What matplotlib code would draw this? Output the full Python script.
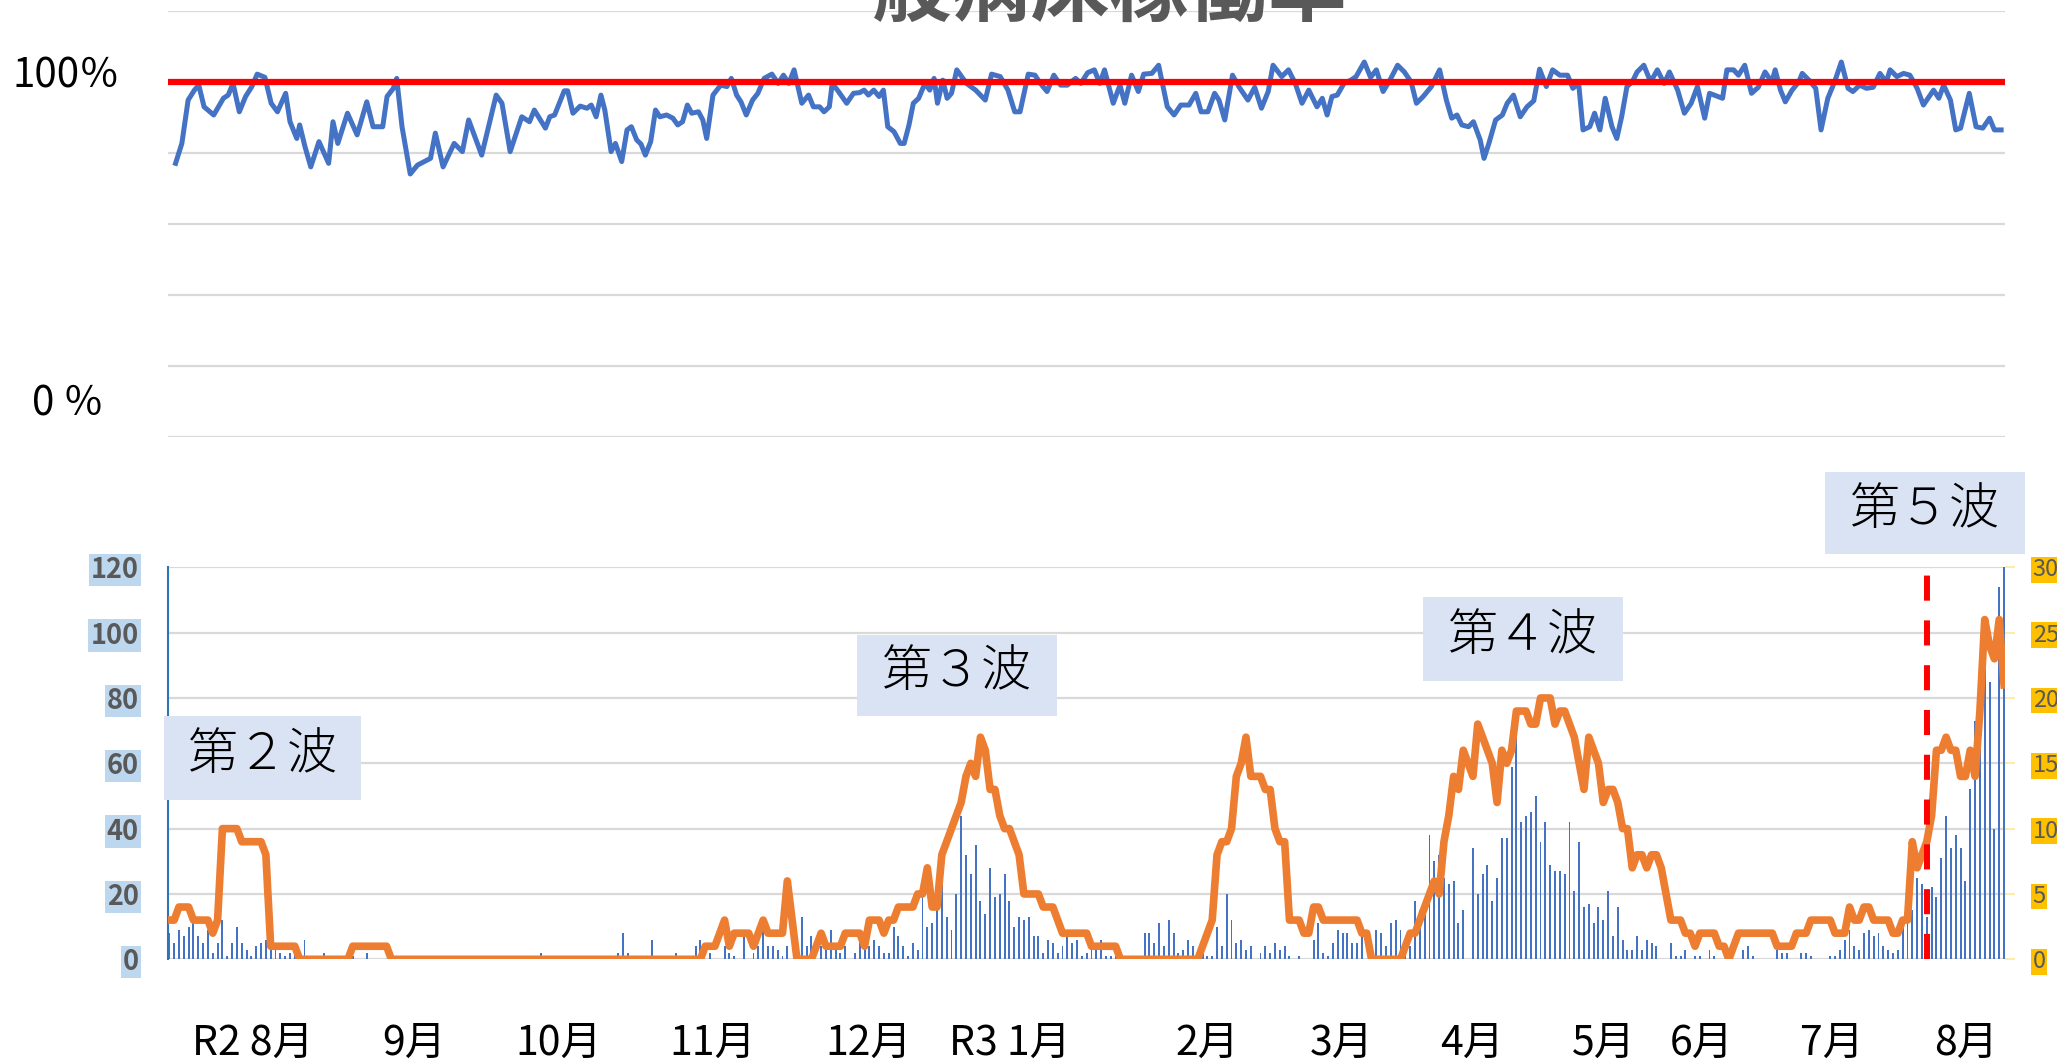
import numpy as np
import matplotlib
matplotlib.use('Agg')
import matplotlib.pyplot as plt
from matplotlib.patches import Rectangle
from matplotlib.transforms import blended_transform_factory

plt.rcParams['font.family'] = ['Noto Sans CJK JP', 'DejaVu Sans']

# ---------------- data ----------------
title = "一般病床稼働率"

# top panel: bed occupancy (%) at day positions (day 0 = R2 8/1)
top_day = [1.3, 2.6, 3.9, 5.2, 6.1, 7.2, 9.2, 11.2, 12.2, 13.2, 14.5, 15.8, 17.1, 18.2, 19.8,
           21.1, 22.4, 24.1, 25.0, 26.4, 27.0, 28.1, 29.3, 31.0, 33.0, 33.9, 34.9, 36.9, 38.9,
           40.9, 42.2, 44.2, 45.1, 46.4, 47.1, 48.2, 49.9, 51.4, 54.1, 55.1, 56.7, 59.0, 60.7,
           62.0, 64.7, 67.7, 68.9, 70.6, 73.0, 74.6, 75.6, 77.9, 78.8, 79.8, 81.8, 82.5, 83.6,
           85.1, 86.5, 87.4, 88.4, 89.4, 90.2, 91.5, 92.4, 93.7, 94.8, 95.7, 96.8, 97.7, 98.6,
           99.7, 100.7, 101.6, 103.0, 104.3, 105.3, 106.3, 107.3, 108.2, 109.6, 110.5, 111.3,
           112.6, 114.2, 115.5, 116.4, 117.5, 118.4, 119.5, 120.8, 121.9, 123.2, 124.8, 126.1,
           127.2, 128.3, 129.4, 131.0, 132.4, 133.4, 134.7, 135.6, 136.7, 137.3, 138.6, 140.3,
           141.7, 143.0, 143.9, 144.8, 145.9, 147.0, 147.9, 148.8, 150.1, 151.4, 152.2, 153.2,
           154.1, 155.2, 156.5, 157.5, 158.4, 159.1, 160.2, 161.1, 162.0, 163.1, 165.1, 167.0,
           169.0, 170.3, 172.1, 173.7, 175.1, 176.2, 177.9, 179.3, 180.4, 181.8, 183.2, 184.6,
           186.0, 187.7, 188.8, 190.2, 191.6, 192.7, 193.7, 195.5, 196.9, 197.9, 199.3, 200.7,
           201.8, 203.5, 204.9, 206.7, 208.1, 209.5, 211.2, 212.6, 213.7, 215.1, 216.5, 217.4,
           218.6, 220.2, 221.6, 223.4, 224.8, 226.2, 227.6, 228.6, 230.4, 231.8, 233.2, 234.6,
           236.0, 237.7, 238.8, 239.8, 240.8, 241.9, 243.3, 244.7, 245.8, 247.5, 248.8, 250.0,
           251.4, 252.8, 254.4, 255.8, 257.2, 258.3, 259.7, 261.4, 263.1, 264.5, 265.6, 266.7,
           267.7, 269.1, 270.1, 271.5, 272.3, 273.3, 274.7, 276.1, 277.1, 278.4, 279.8, 281.2,
           282.6, 283.8, 285.2, 286.5, 288.0, 289.6, 290.7, 291.9, 292.8, 294.2, 295.2, 296.3,
           297.4, 298.8, 299.8, 300.8, 301.9, 303.0, 304.0, 305.4, 306.8, 308.2, 309.6, 310.7,
           312.4, 313.8, 315.2, 316.5, 318.0, 319.0, 320.7, 321.7, 322.6, 324.0, 325.0, 326.3,
           327.7, 329.1, 330.5, 331.9, 332.6, 333.7, 334.7, 336.1, 337.5, 338.2, 339.6, 341.0,
           342.1, 343.5, 344.9, 346.3, 347.7, 348.7, 350.1, 351.5, 352.9, 354.3, 355.6, 356.4,
           357.8, 359.2, 360.5, 362.0, 363.3, 365.4, 366.5, 367.5, 368.9, 370.0, 371.0, 372.8,
           374.2, 375.6, 377.0, 378.0, 379.4]
top_val = [77.0, 82.6, 94.8, 97.6, 99.0, 92.9, 90.6, 95.3, 96.2, 99.5, 91.5, 95.8, 98.6, 102.1, 101.2,
           93.9, 91.5, 96.7, 88.7, 84.0, 87.8, 81.7, 76.0, 83.1, 77.0, 88.7, 82.6, 91.1, 85.0,
           94.3, 87.3, 87.3, 95.8, 98.1, 100.9, 87.3, 74.0, 76.5, 78.4, 85.5, 76.0, 82.6, 80.3,
           89.2, 79.3, 96.2, 93.9, 80.3, 90.1, 88.7, 92.0, 86.9, 90.1, 90.6, 97.4, 97.4, 91.1,
           93.1, 92.5, 93.4, 90.1, 96.2, 92.0, 80.3, 82.6, 77.5, 86.4, 87.3, 83.6, 82.4, 79.3,
           83.1, 92.0, 90.1, 90.6, 89.7, 87.8, 88.7, 93.4, 91.1, 91.5, 89.2, 84.0,
           96.2, 99.0, 98.6, 100.9, 96.2, 94.3, 90.6, 94.8, 96.7, 100.9, 102.1, 99.5,
           101.8, 99.5, 103.3, 93.9, 96.2, 92.9, 92.9, 91.5, 92.9, 99.5, 97.2, 93.9,
           96.7, 96.9, 97.6, 96.2, 97.6, 95.8, 97.6, 87.3, 85.9, 82.6, 82.6, 87.8,
           93.9, 95.3, 99.5, 97.6, 100.9, 93.9, 100.4, 95.3, 96.7, 103.3, 99.5, 97.6,
           94.8, 102.1, 101.4, 97.6, 91.5, 91.5, 102.1, 101.8, 99.5, 97.2, 101.8, 99.0,
           99.0, 100.9, 99.5, 102.5, 103.3, 99.5, 103.3, 93.9, 99.0, 93.9, 101.8, 97.2,
           102.1, 102.3, 104.6, 92.9, 90.6, 93.4, 93.4, 96.7, 91.5, 91.5, 96.7, 94.8,
           89.2, 101.8, 98.4, 94.8, 98.4, 92.5, 97.2, 104.6, 101.4, 103.3, 99.5, 93.9,
           97.6, 92.9, 95.3, 90.6, 95.8, 96.2, 99.5, 100.4, 101.4, 105.5, 101.2, 103.3,
           97.2, 100.4, 104.6, 102.7, 99.9, 93.9, 95.8, 98.6, 103.3, 94.8, 89.7, 90.6,
           87.8, 87.3, 88.7, 83.6, 78.4, 82.6, 89.2, 90.6, 93.9, 96.2, 90.1, 92.9,
           94.6, 103.5, 98.6, 103.3, 101.8, 101.8, 98.1, 99.5, 86.4, 87.3, 91.1, 86.4,
           95.3, 87.3, 84.0, 90.1, 98.6, 99.9, 102.7, 104.6, 99.9, 103.3, 99.5, 102.7,
           97.6, 91.1, 93.9, 98.6, 89.7, 96.7, 95.8, 95.3, 103.3, 103.3, 101.8, 104.6,
           96.7, 98.4, 102.7, 99.9, 103.3, 97.6, 94.3, 97.6, 99.9, 102.3, 100.4, 98.1,
           86.4, 95.3, 99.9, 105.5, 98.1, 97.2, 99.0, 98.1, 98.4, 102.3, 99.9, 103.3,
           101.4, 102.3, 101.8, 98.1, 93.4, 97.6, 95.3, 99.0, 94.8, 86.4, 86.9, 96.7,
           87.3, 86.9, 89.7, 86.4, 86.4]
top_line_level = 100

# bottom panel: daily new cases (bars, left axis) and patients (orange, right axis)
cases = ([8, 5, 9, 7, 10, 11, 7, 5, 9, 2, 5, 12, 1, 5, 10, 5, 3, 1, 4, 5, 6, 5, 3, 2, 1, 2, 2, 1, 6]
         + [0, 0, 0, 2, 0, 0, 0, 0, 0, 1, 0, 0, 2]
         + [0] * 25 + [1] + [0] * 9 + [2] + [0] * 15
         + [2, 8, 2, 0, 0, 0, 0, 6, 0, 1, 1, 0, 2, 0, 1, 1, 4, 6, 0, 2, 0, 0, 4, 2, 1, 0, 7, 0, 2, 4,
            9, 4, 4, 3, 1, 4, 0, 7, 13, 4, 7, 0, 4, 4, 9, 4, 2, 4, 0, 2, 6, 9, 4, 6, 4, 2, 2, 10, 7, 4, 1]
         + [5, 3, 19, 10, 11, 16, 23, 13, 9, 20, 44, 32, 26, 35, 18, 14, 28, 19, 20, 26, 18, 10, 13, 12,
            13, 7, 7, 2, 6, 5, 2, 4, 7, 5, 6, 1, 2, 3, 3, 6, 1, 1, 1, 0, 0, 0, 0, 0, 8, 8, 5, 11, 4, 12,
            8, 2, 3, 6, 4, 2, 3, 1, 1, 10, 4, 20, 12, 5, 6, 3, 4, 0, 2, 4, 2, 5]
         + [3, 4, 1, 0, 1, 0, 0, 6, 11, 2, 1, 5, 9, 8, 8, 5, 5, 7, 0, 0, 9, 8, 4, 11, 12, 9, 3, 4, 18,
            15, 18, 38, 30, 32, 25, 23, 24, 11, 15, 0, 34, 20, 26, 29, 18, 25, 37, 37, 59, 70, 42, 44,
            45, 50, 36, 42, 29, 27, 27, 26, 42, 21, 36, 16, 17, 11, 16, 12, 21, 7, 16, 6, 3, 3, 7, 3, 6]
         + [5, 4, 0, 0, 5, 1, 1, 3, 0, 1, 1, 0, 3, 1, 0, 0, 0, 0, 0, 3, 4, 1, 0, 0, 0, 0, 3, 2, 2, 0,
            0, 2, 2, 1, 0, 0, 0, 1, 1, 3, 6, 9, 4, 3, 8, 9, 7, 8, 4, 3, 2, 3, 12, 14, 15, 25, 23, 13,
            22, 19, 31, 44, 34, 38, 34, 24, 52, 73, 80, 92, 85, 40, 114, 120])

patients = ([3, 3, 4, 4, 4, 3, 3, 3, 3, 2, 3, 10, 10, 10, 10, 9, 9, 9, 9, 9, 8, 1, 1, 1, 1, 1, 1]
            + [0] * 11 + [1] * 8 + [0] * 65
            + [1, 1, 1, 2, 3, 1, 2, 2, 2, 2, 1, 2, 3, 2, 2, 2, 2, 6, 3, 0, 0, 0, 0, 1, 2, 1, 1, 1, 1, 2,
               2, 2, 2, 1, 3, 3, 3, 2, 3, 3, 4, 4, 4]
            + [4, 5, 5, 7, 4, 4, 8, 9, 10, 11, 12, 14, 15, 14, 17, 16, 13, 13, 11, 10, 10, 9, 8, 5, 5,
               5, 5, 4, 4, 4, 3, 2, 2, 2, 2, 2, 2, 1, 1, 1, 1, 1, 1]
            + [0] * 17
            + [1, 2, 3, 8, 9, 9, 10, 14, 15, 17, 14, 14, 14, 13, 13, 10]
            + [9, 9, 3, 3, 3, 2, 2, 4, 4, 3, 3, 3, 3, 3, 3, 3, 3, 2, 2, 0, 0, 0, 0, 0, 0, 0, 1, 2, 2, 3,
               4, 5, 6, 5, 9, 11, 14, 13, 16, 15, 14, 18, 17, 16, 15, 12, 16, 15, 16, 19, 19, 19, 18, 18,
               20, 20, 20, 18, 19, 19, 18, 17, 15, 13, 17, 16, 15, 12, 13, 13, 12, 10, 10, 7]
            + [8, 8, 7, 8, 8, 7, 5, 3, 3, 3, 2, 2, 1, 2, 2, 2, 2, 1, 1, 0, 1, 2, 2, 2, 2, 2, 2, 2, 2, 1,
               1, 1, 1, 2, 2, 2, 3, 3, 3, 3, 3, 2, 2, 2, 4, 3, 3, 4, 4, 3, 3, 3, 3, 2, 2, 3, 3, 9, 7, 8,
               9, 11, 16, 16, 17, 16, 16, 14, 14, 16, 14, 19, 26, 24, 23, 26, 21])

days = np.arange(len(cases))
wave5_day = 364

month_labels = ["R2 8月", "9月", "10月", "11月", "12月", "R3 1月", "2月", "3月", "4月", "5月", "6月", "7月", "8月"]
month_pos = [17.3, 50.7, 80.7, 112.6, 144.8, 174.1, 214.9, 242.9, 269.8, 297.0, 317.3, 344.4, 372.1]

wave_labels = ["第２波", "第３波", "第４波", "第５波"]
# boxes in pixels: (x0, x1, ytop, ybottom)
wave_boxes = [(164, 361, 716, 800), (857, 1057, 635, 716), (1423, 1623, 597, 681), (1825, 2025, 472, 554)]

left_ticks = [0, 20, 40, 60, 80, 100, 120]
right_ticks = [0, 5, 10, 15, 20, 25, 30]

# ---------------- figure ----------------
W, H = 2057, 1064
fig = plt.figure(figsize=(W / 100, H / 100), dpi=100)
fig.patch.set_facecolor('white')


def fx(px):
    return px / W


def fy(py):
    return 1 - py / H


XL, XR = 168, 2005
xlim = (-0.27, 380.2)
GRID = '#D9D9D9'

# ----- top panel -----
ax_top = fig.add_axes([fx(XL), fy(437), (XR - XL) / W, (437 - 10.5) / H])
ax_top.set_xlim(*xlim)
ax_top.set_ylim(0, 120)
ax_top.set_yticks(left_ticks)
ax_top.set_xticks([])
ax_top.tick_params(axis='y', length=0, labelleft=False)
ax_top.grid(axis='y', color=GRID, lw=1.6)
ax_top.set_axisbelow(True)
for s in ax_top.spines.values():
    s.set_visible(False)
ax_top.plot(top_day, top_val, color='#4472C4', lw=3.6, zorder=3, solid_joinstyle='round')
ax_top.axhline(top_line_level, color='#FF0000', lw=4.5, zorder=4)

fig.text(fx(66), fy(76), "100％", ha='center', va='center', fontsize=29, color='black')
fig.text(fx(68), fy(404), "0 ％", ha='center', va='center', fontsize=29, color='black')
fig.text(fx(1070), fy(15), title, ha='center', va='baseline', fontsize=57, fontweight='bold',
         color='#595959')

# ----- bottom panel -----
ax = fig.add_axes([fx(XL), fy(959.3), (XR - XL) / W, (959.3 - 567.3) / H])
ax.set_xlim(*xlim)
ax.set_ylim(0, 120)
ax.set_yticks(left_ticks)
ax.set_xticks([])
ax.grid(axis='y', color=GRID, lw=1.6)
ax.set_axisbelow(True)
for k, s in ax.spines.items():
    s.set_visible(k == 'left')
ax.spines['left'].set_color('#2E75B6')
ax.spines['left'].set_linewidth(1.5)
ax.bar(days, cases, width=0.4, color='#4472C4', zorder=2)
ax.tick_params(axis='y', length=0, pad=21)
for lab in ax.get_yticklabels():
    lab.set_fontsize(19.5)
    lab.set_fontweight('bold')
    lab.set_color('#595959')
    lab.set_bbox(dict(facecolor='#BDD7EE', edgecolor='none', pad=1.5))

ax2 = ax.twinx()
ax2.set_xlim(*xlim)
ax2.set_ylim(0, 30)
ax2.set_yticks(right_ticks)
for s in ax2.spines.values():
    s.set_visible(False)
ax2.plot(days, patients, color='#ED7D31', lw=5.5, zorder=3, solid_joinstyle='round')
ax2.axvline(wave5_day, color='#FF0000', lw=4.3, dashes=(4.2, 3.3), zorder=4)
ax2.tick_params(axis='y', length=7, width=1.2, color='#FFE699', pad=13)
for lab in ax2.get_yticklabels():
    lab.set_fontsize(17)
    lab.set_color('#595959')
    lab.set_bbox(dict(facecolor='#FFC000', edgecolor='none', pad=1.0))

trans = blended_transform_factory(ax.transData, ax.transAxes)
ybel = (959.3 - 1043) / (959.3 - 567.3)
for p, lab in zip(month_pos, month_labels):
    ax.text(p, ybel, lab, transform=trans, ha='center', va='center', fontsize=29.5, color='black',
            clip_on=False)

# wave label boxes
for (x0, x1, yt, yb), lab in zip(wave_boxes, wave_labels):
    fig.add_artist(Rectangle((fx(x0), fy(yb)), (x1 - x0) / W, (yb - yt) / H,
                             transform=fig.transFigure, facecolor='#DAE3F3', edgecolor='none', zorder=5))
    fig.text(fx((x0 + x1) / 2), fy((yt + yb) / 2 - 3), lab, ha='center', va='center', fontsize=36,
             fontweight='light', color='black', zorder=6)

fig.savefig('out.png', dpi=100)
